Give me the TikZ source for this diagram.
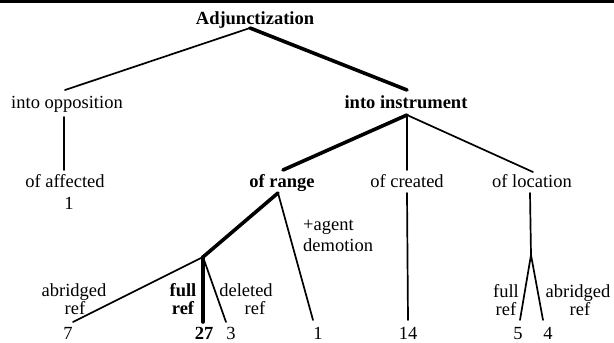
\documentclass[tikz,border=0pt]{standalone}
\usepackage{fontspec}
\setmainfont{Liberation Serif}
\tikzset{
  lbl/.style={anchor=base, inner sep=0pt, font=\fontsize{18.5}{20}\selectfont},
  lblb/.style={lbl, font=\fontsize{18.5}{20}\selectfont\bfseries},
  lblw/.style={lbl, anchor=base west},
  thin/.style={line width=1.7pt, line cap=round},
  thick/.style={line width=3.6pt, line cap=round},
}
\begin{document}
\begin{tikzpicture}[x=1pt, y=-1pt]
\useasboundingbox (0,0) rectangle (614,343);
% top rule
\coordinate (ruleL) at (0,1.5);
\coordinate (ruleR) at (614,1.5);
\draw[line width=2.5pt] (ruleL) -- (ruleR);

% text nodes
\node[lblb] (adj) at (255,24) {Adjunctization};
\node[lbl] (opp) at (67,108) {into opposition};
\node[lblb] (inst) at (406,108) {into instrument};
\node[lbl] (aff) at (65,187) {of affected};
\node[lbl] (affn) at (69,209) {1};
\node[lblb] (range) at (282,187) {of range};
\node[lbl] (created) at (407,187) {of created};
\node[lbl] (loc) at (532,187) {of location};
\node[lblw] (agent) at (303,230) {+agent};
\node[lblw] (demotion) at (303,251) {demotion};
\node[lbl] (abrA) at (74,296) {abridged};
\node[lbl] (abrB) at (75,314) {ref};
\node[lblb] (fullA) at (183,296) {full};
\node[lblb] (fullB) at (183,314) {ref};
\node[lbl] (delA) at (246,296) {deleted};
\node[lbl] (delB) at (255,314) {ref};
\node[lbl] (n7) at (68,339) {7};
\node[lblb] (n27) at (204,339) {27};
\node[lbl] (n3) at (231,339) {3};
\node[lbl] (n1) at (318,339) {1};
\node[lbl] (n14) at (408,339) {14};
\node[lbl] (n5) at (518,339) {5};
\node[lbl] (n4) at (548,339) {4};
\node[lbl] (lfullA) at (506,297) {full};
\node[lbl] (lfullB) at (506,315) {ref};
\node[lbl] (labrA) at (578,297) {abridged};
\node[lbl] (labrB) at (580,315) {ref};

% line end points
\coordinate (adjA) at (250,28);
\coordinate (oppTop) at (65,90);
\coordinate (instTop) at (407,90);
\coordinate (oppBot) at (64,117);
\coordinate (oppEnd) at (64,170);
\coordinate (instBot) at (407,115);
\coordinate (rangeTop) at (283,170);
\coordinate (createdTop) at (407,170);
\coordinate (locTop) at (533,172);
\coordinate (rangeBot) at (278,193);
\coordinate (rangeBranch) at (203,257);
\coordinate (agentEnd) at (313,320);
\coordinate (abrEnd) at (73,322);
\coordinate (fullEnd) at (203,322);
\coordinate (delEnd) at (226,322);
\coordinate (createdBot) at (407,193);
\coordinate (createdEnd) at (408,320);
\coordinate (locBot) at (530,193);
\coordinate (locBranch) at (531,255);
\coordinate (locFullEnd) at (520,320);
\coordinate (locAbrEnd) at (543,320);

% connectors
\draw[thin] (adjA) -- (oppTop);
\draw[thick] (adjA) -- (instTop);
\draw[thin] (oppBot) -- (oppEnd);
\draw[thick] (instBot) -- (rangeTop);
\draw[thin] (instBot) -- (createdTop);
\draw[thin] (instBot) -- (locTop);
\draw[thick] (rangeBot) -- (rangeBranch);
\draw[thin] (rangeBot) -- (agentEnd);
\draw[thin] (rangeBranch) -- (abrEnd);
\draw[thick] (rangeBranch) -- (fullEnd);
\draw[thin] (rangeBranch) -- (delEnd);
\draw[thin] (createdBot) -- (createdEnd);
\draw[thin] (locBot) -- (locBranch);
\draw[thin] (locBranch) -- (locFullEnd);
\draw[thin] (locBranch) -- (locAbrEnd);
\end{tikzpicture}
\end{document}
